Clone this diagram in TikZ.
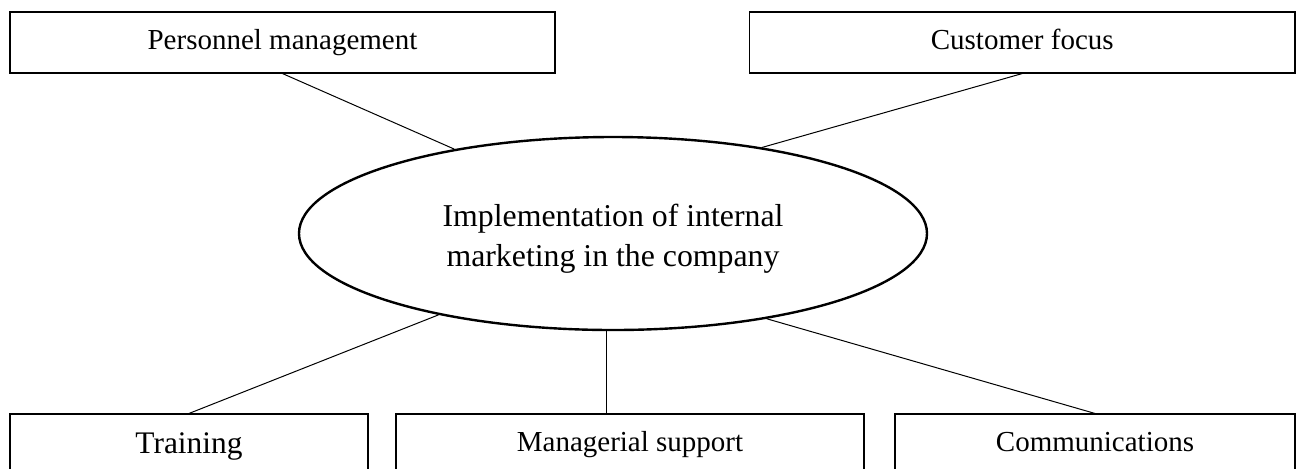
\documentclass[tikz,border=0pt]{standalone}
\usepackage{fontspec}
\setmainfont{Liberation Serif}
\usetikzlibrary{shapes.geometric}
\begin{document}
\begin{tikzpicture}[x=0.5pt,y=-0.5pt,
  box/.style={draw,line width=0.55pt,inner sep=0pt,minimum height=30.5pt,text height=7pt,text depth=0.2pt,font=\fontsize{14.5}{17}\selectfont},
  bigbox/.style={box,text height=8.5pt,text depth=0pt,font=\fontsize{15.7}{18}\selectfont},
  link/.style={line width=0.5pt},
  oval/.style={ellipse,draw,line width=1.2pt,inner sep=0pt,minimum width=314pt,minimum height=96.5pt,font=\fontsize{15.9}{20}\selectfont}]
\path[use as bounding box] (0,0) rectangle (1298,468);
\clip (0,0) rectangle (1298,468);
\node[box,minimum width=272.5pt] (pm) at (282.5,42.5) {Personnel management};
\node[box,minimum width=272.75pt] (cf) at (1022.25,42.5) {Customer focus};
\node[bigbox,minimum width=179pt] (tr) at (189,444.5) {Training};
\node[box,minimum width=234pt] (ms) at (630,444.5) {Managerial support};
\node[box,minimum width=200pt] (cm) at (1095,444.5) {Communications};
\node[oval] (imp) at (613,233.5) {\raisebox{-6.8pt}[0pt][0pt]{\begin{tabular}{@{}c@{}}Implementation of internal\\marketing in the company\end{tabular}}};
\draw[link] (pm.south) -- (imp.152.3);
\draw[link] (cf.south) -- (imp.30.7);
\draw[link] (tr.north) -- (imp.205.6);
\draw[link] (cm.north) -- (imp.331.3);
\draw[link] (imp.266) -- (imp.266 |- ms.north);
\end{tikzpicture}
\end{document}
